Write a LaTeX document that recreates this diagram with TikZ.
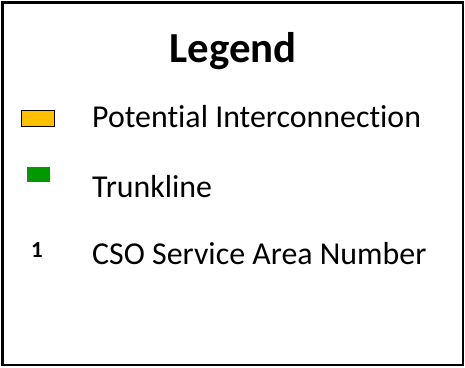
\documentclass[tikz,border=0pt]{standalone}
\usepackage{fontspec}
\setmainfont[Ligatures=NoCommon]{Carlito}
\usetikzlibrary{positioning}
\definecolor{interyellow}{HTML}{FFC000}
\definecolor{trunkgreen}{HTML}{009A00}

\begin{document}
\begin{tikzpicture}[
    x=1bp, y=-1bp,
    frame/.style={draw, line width=2.2bp},
    title/.style={anchor=base, font=\fontsize{43}{50}\selectfont\bfseries, inner sep=0pt},
    entry/.style={anchor=base west, font=\fontsize{32}{38}\selectfont, inner sep=0pt},
  ]
  \useasboundingbox (0,0) rectangle (465,367);

  %% ---- frame and title -----------------------------------------------
  \draw[frame] (2.5,2.5) rectangle (463,365);
  \node[title] (T) at (233,62) {Legend};

  %% ---- legend entries ------------------------------------------------
  \node[draw, line width=1.6bp, fill=interyellow, inner sep=0pt,
        minimum width=33bp, minimum height=16bp] (S1) at (38,118.5) {};
  \node[fill=trunkgreen, inner sep=0pt,
        minimum width=23bp, minimum height=15bp] (S2) at (38.5,174.5) {};
  \node[anchor=base, font=\fontsize{23}{27}\selectfont\bfseries, inner sep=0pt]
        (S3) at (37,257) {1};

  \node[entry] (L1) at (92,127) {Potential Interconnection};
  \node[entry] (L2) at (92,197) {Trunkline};
  \node[entry] (L3) at (92,264) {CSO Service Area Number};

\end{tikzpicture}
\end{document}
